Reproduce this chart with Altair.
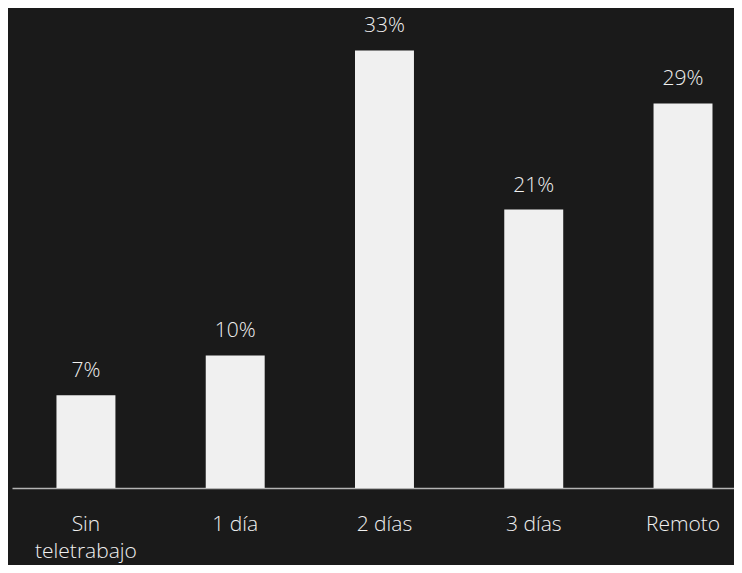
import altair as alt
import pandas as pd

categories = ["Sin\nteletrabajo", "1 día", "2 días", "3 días", "Remoto"]
values = [7, 10, 33, 21, 29]
labels = ["7%", "10%", "33%", "21%", "29%"]

df = pd.DataFrame({"cat": categories, "val": values, "lab": labels})

BG = "#1a1a1a"
FG = "#f0f0f0"
FONT = "Open Sans"
FS = 21

x = alt.X(
    "cat:N",
    sort=categories,
    title=None,
    scale=alt.Scale(paddingInner=0.605, paddingOuter=0.221, align=0.674),
    axis=alt.Axis(
        labelAngle=0,
        ticks=False,
        domainColor="#b4b4b4",
        domainWidth=1.5,
        labelColor=FG,
        labelFont=FONT,
        labelFontSize=FS,
        labelFontWeight=300,
        labelBaseline="alphabetic",
        labelPadding=42,
        labelLineHeight=27,
        labelExpr="split(datum.label, '\\n')",
    ),
)
y = alt.Y("val:Q", title=None, scale=alt.Scale(domain=[0, 36.2], nice=False), axis=None)

bars = alt.Chart(df).mark_bar(color=FG).encode(x=x, y=y)
text = alt.Chart(df).mark_text(
    color=FG, font=FONT, fontSize=FS, fontWeight=300, baseline="alphabetic", dy=-18
).encode(x=alt.X("cat:N", sort=categories), y=y, text="lab:N")

chart = (
    alt.layer(bars, text)
    .properties(
        width=722,
        height=480,
        background=BG,
        autosize=alt.AutoSizeParams(type="none"),
        padding={"left": 4, "top": 0, "right": 0, "bottom": 77},
    )
    .configure_view(stroke=None)
)

chart.save("out.html", embed_options={"renderer": "svg", "actions": False})
